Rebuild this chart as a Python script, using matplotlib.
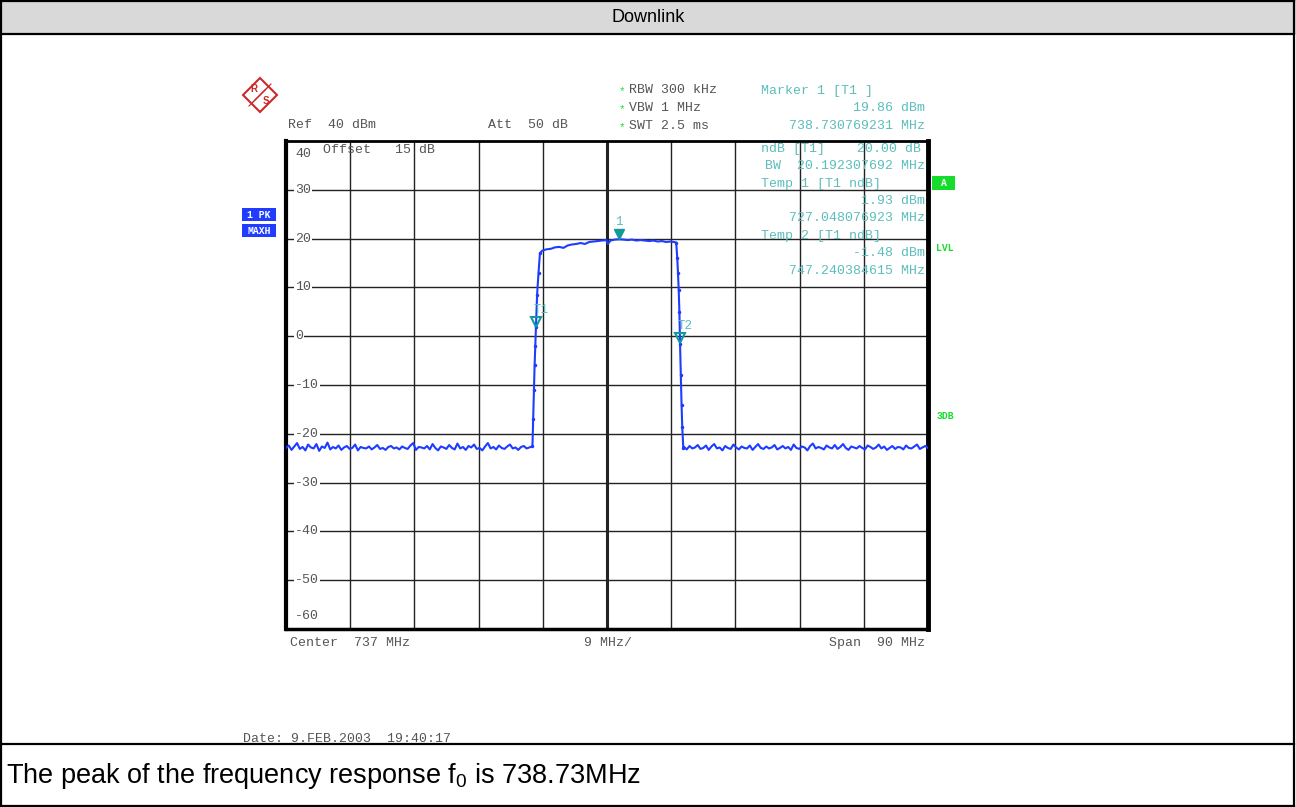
import numpy as np
import matplotlib
matplotlib.use("Agg")
import matplotlib.pyplot as plt
from matplotlib.patches import Rectangle, Polygon
from matplotlib.lines import Line2D
from matplotlib import transforms

# ---- data ----
f_start, f_stop = 692.0, 782.0          # MHz (center 737, span 90)
level_top, level_bottom = 40, -60        # dBm
y_ticks = [40, 30, 20, 10, 0, -10, -20, -30, -40, -50, -60]

noise_left = [
    -22.9, -22.4, -23.3, -22.6, -21.9, -23.1, -22.7, -23.4, -22.2, -22.8,
    -23.0, -22.1, -23.5, -22.6, -22.9, -21.8, -23.2, -22.7, -23.0, -22.4,
    -23.3, -22.8, -22.5, -23.1, -22.9, -22.2, -23.4, -22.7, -22.9, -23.0,
    -22.6, -23.2, -22.8, -22.3, -23.1, -22.9, -23.3, -22.7, -22.5, -23.0,
    -22.8, -23.2, -22.6, -22.9, -23.1, -22.4, -21.9, -23.3, -22.7, -22.8,
    -23.0, -22.5, -23.2, -22.1, -22.9, -23.4, -22.6, -22.8, -23.1, -22.3,
    -22.9, -23.2, -22.0, -23.0, -22.7, -23.3, -22.5, -22.8, -22.2, -23.1,
    -22.9, -23.4, -22.6, -21.9, -23.0, -22.7, -23.2, -22.4, -22.9, -23.1,
    -22.6, -22.2, -23.0, -22.8, -23.3, -22.7, -22.5, -23.0, -22.8, -22.6]
noise_right = [
    -22.7, -23.2, -22.5, -23.0, -22.8, -22.3, -23.1, -22.9, -22.4, -23.3,
    -22.6, -22.1, -23.0, -22.8, -23.4, -22.5, -22.9, -23.1, -22.2, -22.8,
    -23.2, -22.6, -22.9, -23.0, -22.4, -23.3, -22.7, -22.1, -22.9, -23.1,
    -22.6, -23.0, -22.8, -22.3, -23.2, -22.9, -22.5, -23.0, -22.7, -23.3,
    -22.2, -22.9, -23.1, -22.6, -22.8, -23.4, -22.5, -22.0, -23.0, -22.7,
    -22.9, -23.2, -22.4, -22.8, -23.0, -22.3, -23.1, -22.7, -22.1, -22.9,
    -23.3, -22.6, -22.8, -23.0, -22.5, -22.9, -23.2, -22.4, -22.7, -23.1,
    -22.8, -22.2, -23.0, -22.6, -23.3, -22.9, -22.5, -23.1, -22.7, -22.8,
    -23.2, -22.4, -22.9, -23.0, -22.6, -22.2, -23.1, -22.8, -22.5, -22.9]
noise_left_end, noise_right_start = 726.5, 747.8

rise_freq = [726.55, 726.65, 726.75, 726.85, 726.95, 727.05, 727.2, 727.4, 727.6]
rise_level = [-22.5, -17.0, -11.0, -6.0, -2.0, 1.9, 8.5, 13.0, 17.0]

top_freq = [727.9, 728.5, 729.1, 729.7, 730.3, 730.9, 731.5, 732.1, 732.7, 733.3,
            733.9, 734.5, 735.1, 735.7, 736.3, 736.9, 737.1, 737.5, 738.1, 738.73,
            739.3, 739.9, 740.5, 741.1, 741.7, 742.3, 742.9, 743.5, 744.1, 744.7,
            745.3, 745.9, 746.4]
top_level = [17.5, 17.8, 17.9, 18.2, 18.3, 18.1, 18.6, 18.8, 18.9, 19.1,
             18.9, 19.3, 19.4, 19.5, 19.6, 19.7, 18.9, 19.6, 19.8, 19.86,
             19.8, 19.7, 19.8, 19.6, 19.7, 19.6, 19.5, 19.6, 19.4, 19.5,
             19.3, 19.4, 19.3]

fall_freq = [746.7, 746.85, 746.95, 747.05, 747.15, 747.24, 747.35, 747.45, 747.55, 747.7]
fall_level = [19.2, 16.0, 13.0, 9.5, 5.0, -1.5, -8.0, -14.0, -18.6, -23.0]

marker_names = ["1", "T1", "T2"]
marker_freq = [738.730769231, 727.048076923, 747.240384615]
marker_level = [19.86, 1.93, -1.48]

W, H = 1296, 807
MONO = "Liberation Mono"
GRAY = "#555555"
CYAN = "#5cbdbd"
TEAL = "#109a9a"
BLUE = "#1f3cff"
GREEN = "#16dd2c"


def fx(x):
    return x / W


def fy(y):
    return 1 - y / H


fig = plt.figure(figsize=(W / 100, H / 100), dpi=100)
plt.rcParams["mathtext.default"] = "regular"

# page frame, title band and caption
fig.patches.append(Rectangle((0, fy(34)), 1, 34 / H, transform=fig.transFigure,
                             facecolor="#d9d9d9", edgecolor="none", zorder=0))
for (x0, y0, x1, y1) in [(1, 1, 1294, 1), (1, 1, 1, 806), (1294, 1, 1294, 806),
                         (1, 806, 1294, 806), (1, 34, 1294, 34), (1, 744, 1294, 744)]:
    fig.lines.append(Line2D([fx(x0), fx(x1)], [fy(y0), fy(y1)], transform=fig.transFigure,
                            color="black", lw=1.6))
fig.text(0.5, fy(17), "Downlink", ha="center", va="center", fontsize=13,
         family="Liberation Sans")
fig.text(fx(6), fy(776), "The peak of the frequency response f$_0$ is 738.73MHz",
         ha="left", va="center", fontsize=19.5, family="Liberation Sans")

# ---- analyzer grid ----
ax = fig.add_axes([fx(286), fy(629), (928 - 286) / W, (629 - 141) / H])
ax.set_xlim(f_start, f_stop)
ax.set_ylim(level_bottom, level_top)
ax.set_xticks([])
ax.set_yticks([])
div = (f_stop - f_start) / 10
center = (f_start + f_stop) / 2
for i in range(1, 10):
    xv = f_start + i * div
    ax.axvline(xv, color="#222222", lw=2.2 if xv == center else 1.0, zorder=1)
for v in y_ticks[1:-1]:
    ax.axhline(v, color="#222222", lw=1.0, zorder=1)
for side, lw in [("left", 3.0), ("right", 3.5), ("top", 2.0), ("bottom", 2.5)]:
    ax.spines[side].set_linewidth(lw)

ylab = transforms.blended_transform_factory(ax.transAxes, ax.transData)
for v in y_ticks:
    va = "center"
    off = 0
    if v == level_top:
        va, off = "top", -1.5
    elif v == level_bottom:
        va, off = "bottom", 1.5
    t = ax.text(9 / 642, v + off, str(v), transform=ylab, ha="left", va=va,
                family=MONO, fontsize=9.5, color=GRAY, zorder=3)
    if va == "center":
        t.set_bbox(dict(facecolor="white", edgecolor="none", pad=1.0))

# ---- trace ----
freq_left = np.linspace(f_start, noise_left_end, len(noise_left))
freq_right = np.linspace(noise_right_start, f_stop, len(noise_right))
freq = np.concatenate([freq_left, rise_freq, top_freq, fall_freq, freq_right])
level = np.concatenate([noise_left, rise_level, top_level, fall_level, noise_right])
ax.plot(freq, level, color=BLUE, lw=1.5, zorder=4)
ax.plot(rise_freq + fall_freq, rise_level + fall_level, ls="none", marker=".",
        ms=3, color=BLUE, zorder=4)

# markers
tri_off = transforms.offset_copy(ax.transData, fig=fig, x=0, y=5, units="dots")
for name, mf, ml in zip(marker_names, marker_freq, marker_level):
    if name == "1":
        ax.plot(mf, ml, marker="v", ms=7, color=TEAL, ls="none", transform=tri_off, zorder=5)
        dx = 0
    else:
        ax.plot(mf, ml, marker="v", ms=7, mfc="none", mec=TEAL, mew=1.5, ls="none",
                transform=tri_off, zorder=5)
        dx = 5
    lab = transforms.offset_copy(ax.transData, fig=fig, x=dx, y=17, units="dots")
    ax.text(mf, ml, name, transform=lab, ha="center", va="center", family=MONO,
            fontsize=9, color=CYAN, zorder=5)


# ---- instrument annotations ----
def mono(x, y, s, color=GRAY, ha="left", size=9.5, **kw):
    fig.text(fx(x), fy(y), s, ha=ha, va="center", family=MONO, fontsize=size,
             color=color, **kw)


mono(288, 125, "Ref  40 dBm")
mono(488, 125, "Att  50 dB")
for yy, s in [(90, "RBW 300 kHz"), (108, "VBW 1 MHz"), (126, "SWT 2.5 ms")]:
    mono(619, yy + 1, "*", color=GREEN, size=8)
    mono(629, yy, s)
mono(761, 91, "Marker 1 [T1 ]", color=CYAN)
mono(925, 108, "19.86 dBm", color=CYAN, ha="right")
mono(925, 126, "738.730769231 MHz", color=CYAN, ha="right")
mono(761, 149, "ndB [T1]    20.00 dB", color=CYAN)
mono(925, 166, "BW  20.192307692 MHz", color=CYAN, ha="right")
mono(761, 184, "Temp 1 [T1 ndB]", color=CYAN)
mono(925, 201, "1.93 dBm", color=CYAN, ha="right")
mono(925, 218, "727.048076923 MHz", color=CYAN, ha="right")
mono(761, 236, "Temp 2 [T1 ndB]", color=CYAN)
mono(925, 253, "-1.48 dBm", color=CYAN, ha="right")
mono(925, 271, "747.240384615 MHz", color=CYAN, ha="right")
mono(323, 150, "Offset   15 dB")
mono(290, 643, "Center  737 MHz")
mono(584, 643, "9 MHz/")
mono(925, 643, "Span  90 MHz", ha="right")
mono(243, 739, "Date: 9.FEB.2003  19:40:17")

# side boxes
for (x0, y0, x1, y1, col, s) in [(242, 208, 276, 221, BLUE, "1 PK"),
                                 (242, 224, 276, 237, BLUE, "MAXH"),
                                 (932, 176, 955, 190, GREEN, "A")]:
    fig.patches.append(Rectangle((fx(x0), fy(y1)), (x1 - x0) / W, (y1 - y0) / H,
                                 transform=fig.transFigure, facecolor=col,
                                 edgecolor="none"))
    fig.text(fx((x0 + x1) / 2), fy((y0 + y1) / 2), s, ha="center", va="center",
             family=MONO, fontsize=7, color="white", weight="bold")
mono(945, 248, "LVL", color=GREEN, ha="center", size=7, weight="bold")
mono(945, 416, "3DB", color=GREEN, ha="center", size=7, weight="bold")

# R&S logo
RED = "#cc2a2a"
fig.patches.append(Polygon([(fx(260), fy(78)), (fx(277), fy(95)), (fx(260), fy(112)),
                            (fx(243), fy(95))], closed=True, transform=fig.transFigure,
                           facecolor="none", edgecolor=RED, lw=1.5))
for k in (-3, 0, 3):
    fig.lines.append(Line2D([fx(252 + k), fx(268 + k)], [fy(103 - k), fy(87 - k)],
                            transform=fig.transFigure, color=RED, lw=0.8))
fig.text(fx(254), fy(89), "R", ha="center", va="center", fontsize=7, color=RED,
         weight="bold", family="Liberation Sans")
fig.text(fx(266), fy(101), "S", ha="center", va="center", fontsize=7, color=RED,
         weight="bold", family="Liberation Sans")

fig.savefig("out.png", dpi=100)
